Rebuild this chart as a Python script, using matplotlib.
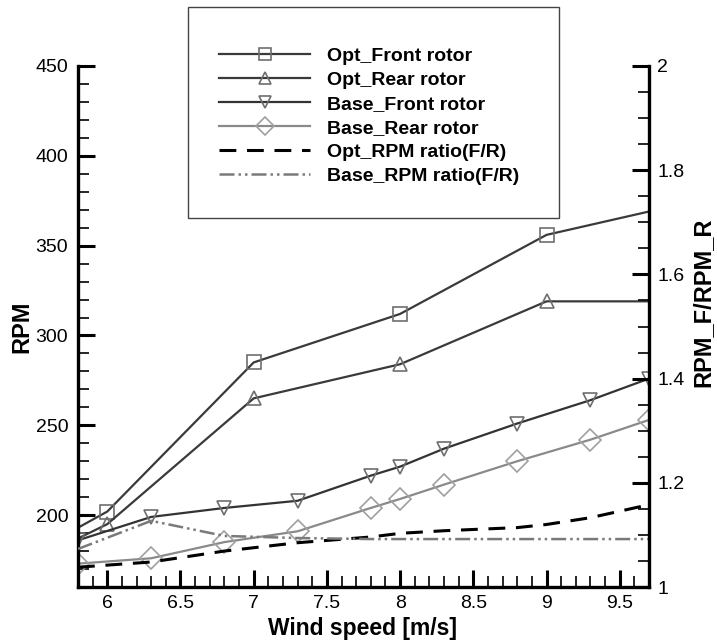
import matplotlib
matplotlib.use("Agg")
import matplotlib.pyplot as plt
from matplotlib.ticker import MultipleLocator
from matplotlib.patches import Rectangle

plt.rcParams["font.family"] = ["Liberation Sans", "DejaVu Sans"]

# optimised rotor speeds
opt_x = [5.8, 6.0, 7.0, 8.0, 9.0, 9.7]
opt_front = [193, 202, 285, 312, 356, 369]
opt_rear = [187, 195, 265, 284, 319, 319]

# baseline rotor speeds
base_x = [5.8, 6.3, 6.8, 7.3, 7.8, 8.0, 8.3, 8.8, 9.3, 9.7]
base_front = [186, 199, 204, 208, 222, 227, 237, 251, 264, 276]
base_rear = [173, 176, 185, 191, 204, 209, 217, 230, 242, 253]

# front/rear rpm ratios (right axis)
opt_ratio_x = [5.8, 6.3, 6.8, 7.3, 7.8, 8.0, 8.3, 8.8, 9.0, 9.3, 9.7]
opt_ratio = [1.038, 1.048, 1.069, 1.085, 1.096, 1.103, 1.108, 1.114, 1.120, 1.133, 1.158]
base_ratio_x = [5.8, 6.3, 6.8, 7.3, 7.8, 8.3, 8.8, 9.3, 9.7]
base_ratio = [1.073, 1.127, 1.098, 1.094, 1.092, 1.092, 1.092, 1.092, 1.092]

fig = plt.figure(figsize=(7.17, 6.41), dpi=100)
ax = fig.add_axes([78 / 717, 1 - 587 / 641, (649 - 78) / 717, (587 - 66) / 641])
ax2 = ax.twinx()

dark = "#3a3a3a"
mk = "#6e6e6e"
l1, = ax.plot(opt_x, opt_front, color=dark, lw=1.6, marker="s", ms=10, mfc="none",
              mec=mk, mew=1.2, markevery=[1, 2, 3, 4], label="Opt_Front rotor")
l2, = ax.plot(opt_x, opt_rear, color=dark, lw=1.6, marker="^", ms=10, mfc="none",
              mec=mk, mew=1.2, markevery=[1, 2, 3, 4], label="Opt_Rear rotor")
l3, = ax.plot(base_x, base_front, color="#333333", lw=1.6, marker="v", ms=10, mfc="none",
              mec=mk, mew=1.2, label="Base_Front rotor")
l4, = ax.plot(base_x, base_rear, color="#8a8a8a", lw=1.6, marker="D", ms=11, mfc="none",
              mec="#a0a0a0", mew=1.2, label="Base_Rear rotor")
l5, = ax2.plot(opt_ratio_x, opt_ratio, color="black", lw=2.2, dashes=(5.5, 3.5),
               label="Opt_RPM ratio(F/R)")
l6, = ax2.plot(base_ratio_x, base_ratio, color="#7a7a7a", lw=1.8,
               dashes=(6, 1.6, 1, 1.6, 1, 1.6), label="Base_RPM ratio(F/R)")

ax.set_xlim(5.8, 9.7)
ax.set_ylim(160, 450)
ax2.set_ylim(1, 2)

ax.xaxis.set_major_locator(MultipleLocator(0.5))
ax.xaxis.set_minor_locator(MultipleLocator(0.1))
ax.yaxis.set_major_locator(MultipleLocator(50))
ax.yaxis.set_minor_locator(MultipleLocator(10))
ax2.yaxis.set_major_locator(MultipleLocator(0.2))
ax2.yaxis.set_minor_locator(MultipleLocator(0.05))
ax.xaxis.set_major_formatter(plt.FuncFormatter(lambda v, p: f"{v:g}"))
ax2.yaxis.set_major_formatter(plt.FuncFormatter(lambda v, p: f"{v:g}"))

for a in (ax, ax2):
    a.tick_params(which="major", direction="in", length=12, width=2.2, labelsize=14)
    a.tick_params(which="minor", direction="in", length=8, width=1.2)
    for s in a.spines.values():
        s.set_linewidth(2.4)
ax.tick_params(axis="y", pad=7, right=False)
ax.tick_params(axis="x", pad=6, top=False)
ax2.tick_params(axis="y", pad=6)
ax.spines["top"].set_visible(False)
ax.spines["right"].set_visible(False)
ax2.spines["top"].set_visible(False)
ax2.spines["left"].set_visible(False)
ax2.spines["bottom"].set_visible(False)

ax.set_xlabel("Wind speed [m/s]", fontsize=16.5, fontweight="bold")
ax.set_ylabel("RPM", fontsize=17, fontweight="bold")
ax2.set_ylabel("RPM_F/RPM_R", fontsize=17, fontweight="bold")
ax.xaxis.set_label_coords(0.498, -0.057)
ax.yaxis.set_label_coords(-0.079, 0.5)
ax2.yaxis.set_label_coords(1.075, 0.547)

# legend frame is taller than the entries, so draw it separately
fig.patches.append(Rectangle((188 / 717, 1 - 218 / 641), (559 - 188) / 717, (218 - 7) / 641,
                             transform=fig.transFigure, facecolor="white",
                             edgecolor="#444444", lw=1.0, zorder=3))
fig.legend(handles=[l1, l2, l3, l4, l5, l6], loc="upper left",
           bbox_to_anchor=(219 / 717, 1 - 47 / 641), bbox_transform=fig.transFigure,
           frameon=False, borderpad=0, borderaxespad=0, handlelength=4.7,
           handletextpad=0.85, labelspacing=0.33, markerscale=0.85,
           prop={"size": 14, "weight": "bold"})

fig.savefig("out.png", dpi=100)
